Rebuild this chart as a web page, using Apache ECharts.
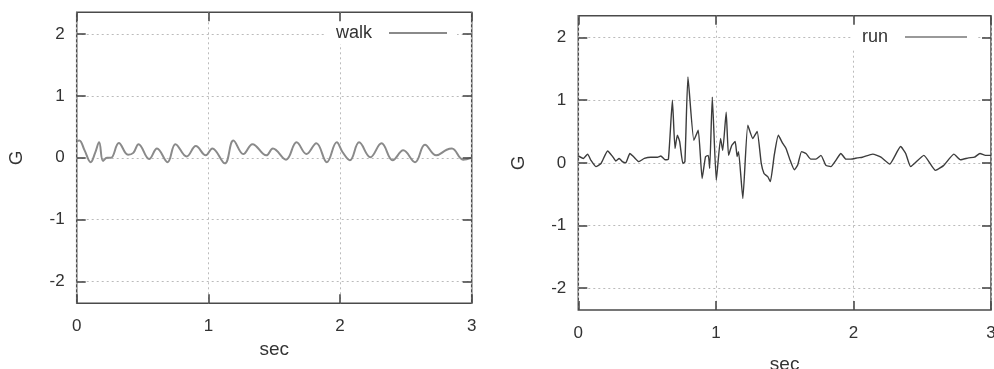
<!DOCTYPE html>
<html>
<head>
<meta charset="utf-8">
<title>walk / run</title>
<script src="https://cdn.jsdelivr.net/npm/echarts@6/dist/echarts.min.js"></script>
<style>
    html, body { margin: 0; padding: 0; background: #fff; }
    #chart { width: 994px; height: 369px; }
</style>
</head>
<body>
<div id="chart"></div>
<script>
// values (time in sec, acceleration in G)
var xTicks = [0, 1, 2, 3];
var yTicks = [-2, -1, 0, 1, 2];

var walkTime = [0.00, 0.02, 0.06, 0.106, 0.14, 0.17, 0.20, 0.23, 0.26, 0.32, 0.39, 0.43, 0.47, 0.55, 0.61,
    0.69, 0.75, 0.835, 0.905, 0.98, 1.03, 1.125, 1.19, 1.265, 1.335, 1.44, 1.49, 1.59, 1.67, 1.745,
    1.82, 1.90, 1.975, 2.02, 2.075, 2.145, 2.23, 2.315, 2.40, 2.48, 2.57, 2.645, 2.73, 2.81, 2.85,
    2.935, 3.00];
var walkG = [0.27, 0.28, 0.12, -0.07, 0.08, 0.25, -0.05, 0.0, 0.0, 0.24, 0.05, 0.08, 0.22, -0.02, 0.15,
    -0.07, 0.22, 0.02, 0.19, 0.04, 0.15, -0.09, 0.28, 0.06, 0.22, 0.04, 0.15, -0.03, 0.25, 0.06,
    0.235, -0.07, 0.25, 0.09, -0.04, 0.25, 0.01, 0.235, -0.04, 0.12, -0.07, 0.21, 0.04, 0.13, 0.15,
    -0.03, 0.0];

var runTime = [0.00, 0.036, 0.068, 0.092, 0.128, 0.165, 0.213, 0.25, 0.273, 0.297, 0.32, 0.345, 0.375, 0.405, 0.44,
    0.48, 0.527, 0.575, 0.60, 0.63, 0.655, 0.684, 0.703, 0.72, 0.737, 0.76, 0.775, 0.797, 0.84, 0.872,
    0.90, 0.925, 0.945, 0.955, 0.974, 1.003, 1.034, 1.05, 1.075, 1.092, 1.116, 1.14, 1.155, 1.165, 1.196,
    1.232, 1.268, 1.30, 1.33, 1.35, 1.377, 1.396, 1.425, 1.454, 1.486, 1.51, 1.54, 1.57, 1.594, 1.623,
    1.655, 1.69, 1.727, 1.764, 1.80, 1.836, 1.872, 1.909, 1.945, 1.98, 2.03, 2.065, 2.14, 2.20, 2.264,
    2.343, 2.38, 2.416, 2.512, 2.597, 2.657, 2.73, 2.778, 2.838, 2.88, 2.92, 2.96, 3.00];
var runG = [0.11, 0.07, 0.14, 0.04, -0.06, -0.01, 0.19, 0.10, 0.03, 0.07, 0.02, 0.0, 0.15, 0.09, 0.02,
    0.07, 0.09, 0.09, 0.11, 0.05, 0.06, 1.0, 0.23, 0.44, 0.34, -0.01, 0.02, 1.37, 0.36, 0.52,
    -0.25, 0.10, 0.12, -0.09, 1.05, -0.28, 0.39, 0.20, 0.81, 0.12, 0.28, 0.34, 0.10, 0.18, -0.57,
    0.60, 0.39, 0.50, -0.01, -0.17, -0.22, -0.30, 0.13, 0.44, 0.31, 0.23, 0.04, -0.11, -0.04, 0.18,
    0.15, 0.06, 0.06, 0.12, -0.04, -0.06, 0.04, 0.15, 0.06, 0.06, 0.08, 0.09, 0.14, 0.09, -0.02,
    0.26, 0.15, -0.06, 0.12, -0.12, -0.04, 0.14, 0.05, 0.08, 0.09, 0.15, 0.12, 0.12];

var FONT = "'Liberation Sans', Arial, sans-serif";
var INK = '#4a4a4a';
var Y_LIM = 2.35;

function zip(xs, ys) {
    var out = [];
    for (var i = 0; i < xs.length; ++i) {
        out.push([xs[i], ys[i]]);
    }
    return out;
}

function tickStyle(values) {
    return { show: true, inside: true, length: 9, customValues: values, lineStyle: { color: INK, width: 1.6 } };
}

function gridLine() {
    return { show: true, lineStyle: { color: '#bbb', type: [2, 3], width: 1 } };
}

// bottom axis carries labels, name and the vertical grid; top one only mirrors ticks
function xAxes(grid, nameGap) {
    return [{
        gridIndex: grid, type: 'value', min: 0, max: 3,
        axisLine: { show: false, onZero: false },
        axisTick: tickStyle(xTicks),
        axisLabel: { margin: 15, fontSize: 17, color: '#333', fontFamily: FONT, customValues: xTicks },
        splitLine: gridLine(),
        name: 'sec', nameLocation: 'middle', nameGap: nameGap,
        nameTextStyle: { fontSize: 19, color: '#333', fontFamily: FONT }
    }, {
        gridIndex: grid, type: 'value', position: 'top', min: 0, max: 3, z: 5,
        axisLine: { show: false, onZero: false },
        axisTick: tickStyle(xTicks),
        axisLabel: { show: false },
        splitLine: { show: false }
    }];
}

function yAxes(grid) {
    return [{
        gridIndex: grid, type: 'value', min: -Y_LIM, max: Y_LIM,
        axisLine: { show: false, onZero: false },
        axisTick: tickStyle(yTicks),
        axisLabel: { margin: 12, fontSize: 17, color: '#333', fontFamily: FONT, customValues: yTicks },
        splitLine: gridLine(),
        name: 'G', nameLocation: 'middle', nameGap: 50,
        nameTextStyle: { fontSize: 19, color: '#333', fontFamily: FONT }
    }, {
        gridIndex: grid, type: 'value', position: 'right', min: -Y_LIM, max: Y_LIM, z: 5,
        axisLine: { show: false, onZero: false },
        axisTick: tickStyle(yTicks),
        axisLabel: { show: false },
        splitLine: { show: false }
    }];
}

function legendFor(name, left, top, width, thick) {
    return {
        data: [name], left: left, top: top, align: 'right', selectedMode: false,
        icon: 'rect', itemWidth: width, itemHeight: thick,
        padding: [10, 10, 2, 10], backgroundColor: '#fff',
        textStyle: { fontSize: 18, color: '#333', fontFamily: FONT, padding: [0, 12, 0, 0], lineHeight: 18 }
    };
}

var option = {
    animation: false,
    backgroundColor: '#fff',
    grid: [
        { left: 76.7, top: 12.3, width: 395, height: 291, outerBoundsMode: 'none',
          show: true, borderColor: INK, borderWidth: 1.5, backgroundColor: '#fff' },
        { left: 578.3, top: 15.7, width: 412.7, height: 294.3, outerBoundsMode: 'none',
          show: true, borderColor: INK, borderWidth: 1.5, backgroundColor: '#fff' }
    ],
    legend: [legendFor('walk', 326, 14, 58, 2), legendFor('run', 852, 18, 62, 1.3)],
    xAxis: xAxes(0, 37).concat(xAxes(1, 45)),
    yAxis: yAxes(0).concat(yAxes(1)),
    series: [{
        name: 'walk', type: 'line', xAxisIndex: 0, yAxisIndex: 0,
        symbol: 'none', smooth: 0.4, z: 3,
        lineStyle: { color: '#8a8a8a', width: 2 },
        itemStyle: { color: '#8a8a8a' },
        data: zip(walkTime, walkG)
    }, {
        name: 'run', type: 'line', xAxisIndex: 2, yAxisIndex: 2,
        symbol: 'none', smooth: 0.15, z: 3,
        lineStyle: { color: '#3c3c3c', width: 1.4 },
        itemStyle: { color: '#777' },
        data: zip(runTime, runG)
    }]
};

var chart = echarts.init(document.getElementById('chart'), null, { renderer: 'canvas' });
chart.setOption(option);
</script>
</body>
</html>
